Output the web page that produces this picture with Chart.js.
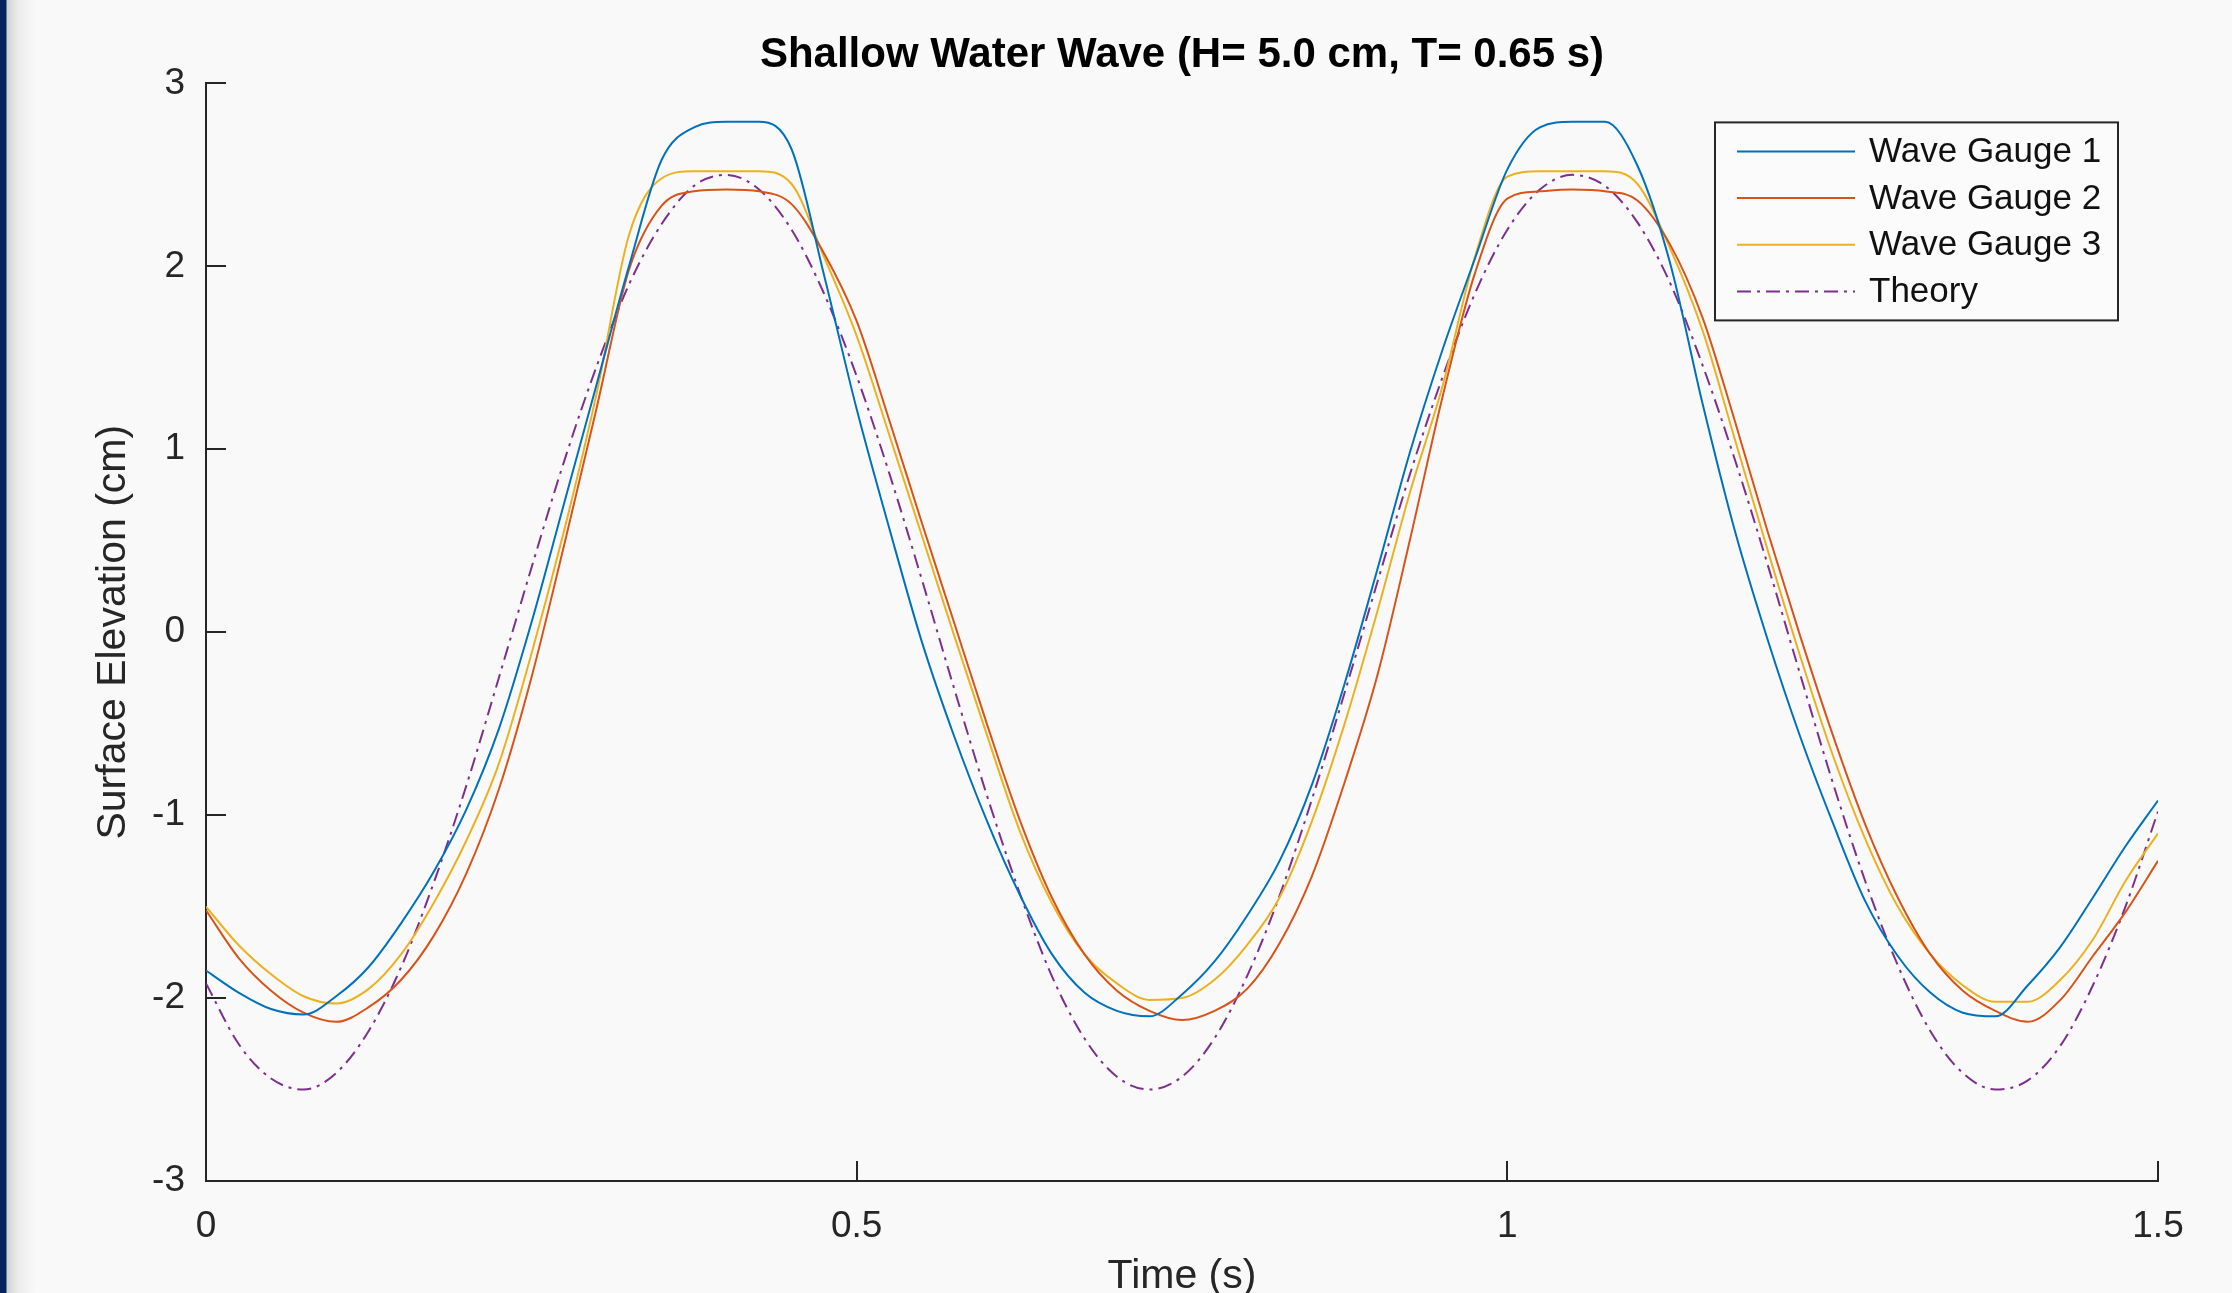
<!DOCTYPE html>
<html>
<head>
<meta charset="utf-8">
<script src="https://cdn.jsdelivr.net/npm/chart.js@4.4.1/dist/chart.umd.min.js"></script>
<style>
  html, body { margin: 0; padding: 0; }
  body {
    width: 2232px; height: 1293px; overflow: hidden;
    background: linear-gradient(to right, #06235f 0px, #06235f 6px, #d2d2d2 7px, #ececec 18px, #f9f9f9 36px, #f9f9f9 100%);
  }
  #wrap { position: absolute; left: 0; top: 0; width: 2232px; height: 1293px; }
</style>
</head>
<body>
<div id="wrap"><canvas id="graficoOnda"></canvas></div>
<script>
// tempo (s)
const tempo = [
  0, 0.025, 0.05, 0.075, 0.1, 0.125, 0.15, 0.175, 0.2, 0.225,
  0.25, 0.275, 0.3, 0.325, 0.35, 0.375, 0.4, 0.425, 0.45, 0.475,
  0.5, 0.525, 0.55, 0.575, 0.6, 0.625, 0.65, 0.675, 0.7, 0.725,
  0.75, 0.775, 0.8, 0.825, 0.85, 0.875, 0.9, 0.925, 0.95, 0.975,
  1.0, 1.025, 1.05, 1.075, 1.1, 1.125, 1.15, 1.175, 1.2, 1.225,
  1.25, 1.275, 1.3, 1.325, 1.35, 1.375, 1.4, 1.425, 1.45, 1.475,
  1.5
];
// elevação (cm)
const gauge1 = [
  -1.85, -1.97, -2.06, -2.09, -1.99, -1.83, -1.59, -1.31, -0.97, -0.53,
  0.05, 0.70, 1.35, 2.00, 2.58, 2.76, 2.79, 2.79, 2.64, 1.95,
  1.22, 0.57, -0.05, -0.57, -1.03, -1.43, -1.76, -1.97, -2.07, -2.10,
  -1.98, -1.80, -1.55, -1.25, -0.83, -0.28, 0.34, 0.98, 1.54, 2.04,
  2.53, 2.76, 2.79, 2.79, 2.55, 2.02, 1.25, 0.55, -0.04, -0.57,
  -1.04, -1.47, -1.77, -1.97, -2.08, -2.10, -1.93, -1.72, -1.45, -1.17,
  -0.92
];
const gauge2 = [
  -1.52, -1.78, -1.96, -2.08, -2.13, -2.05, -1.90, -1.66, -1.32, -0.86,
  -0.25, 0.47, 1.22, 1.98, 2.33, 2.41, 2.42, 2.41, 2.34, 2.07,
  1.70, 1.16, 0.60, 0.05, -0.50, -1.02, -1.45, -1.76, -1.96, -2.07,
  -2.12, -2.07, -1.95, -1.70, -1.33, -0.82, -0.24, 0.50, 1.28, 1.96,
  2.37, 2.41, 2.42, 2.41, 2.36, 2.12, 1.72, 1.15, 0.55, -0.02,
  -0.56, -1.05, -1.45, -1.76, -1.96, -2.07, -2.13, -2.01, -1.77, -1.53,
  -1.25
];
const gauge3 = [
  -1.50, -1.71, -1.87, -1.99, -2.03, -1.95, -1.76, -1.48, -1.14, -0.72,
  -0.12, 0.55, 1.30, 2.17, 2.48, 2.52, 2.52, 2.52, 2.45, 2.05,
  1.62, 1.08, 0.53, -0.02, -0.56, -1.08, -1.48, -1.76, -1.92, -2.01,
  -2.00, -1.90, -1.71, -1.45, -1.03, -0.50, 0.11, 0.76, 1.34, 2.05,
  2.49, 2.52, 2.52, 2.52, 2.45, 2.10, 1.65, 1.05, 0.45, -0.13,
  -0.67, -1.13, -1.50, -1.76, -1.93, -2.02, -2.02, -1.90, -1.68, -1.36,
  -1.10
];
const teoria = [
  -1.92, -2.25, -2.44, -2.50, -2.41, -2.18, -1.83, -1.37, -0.84, -0.25,
  0.35, 0.93, 1.45, 1.90, 2.23, 2.44, 2.50, 2.42, 2.20, 1.85,
  1.40, 0.87, 0.29, -0.31, -0.89, -1.42, -1.88, -2.22, -2.43, -2.50,
  -2.43, -2.22, -1.88, -1.44, -0.91, -0.33, 0.27, 0.86, 1.39, 1.85,
  2.20, 2.42, 2.50, 2.44, 2.24, 1.91, 1.46, 0.94, 0.37, -0.23,
  -0.82, -1.36, -1.82, -2.18, -2.41, -2.50, -2.45, -2.26, -1.93, -1.50,
  -0.98
];
const xTicks = [0, 0.5, 1, 1.5];
const yTicks = [-3, -2, -1, 0, 1, 2, 3];

const fonte = '"Liberation Sans", Arial, Helvetica, sans-serif';
const corEixo = '#262626';
Chart.defaults.font.family = fonte;

function pontos(serie) {
  return tempo.map((t, i) => ({ x: t, y: serie[i] }));
}

// marcas dos eixos para dentro + legenda com moldura
const eixosPlugin = {
  id: 'eixos',
  afterDraw(chart) {
    const { ctx, chartArea, scales } = chart;
    ctx.save();
    ctx.strokeStyle = corEixo;
    ctx.lineWidth = 2;
    ctx.beginPath();
    xTicks.forEach(v => {
      const px = Math.round(scales.x.getPixelForValue(v));
      ctx.moveTo(px, chartArea.bottom);
      ctx.lineTo(px, chartArea.bottom - 20);
    });
    yTicks.forEach(v => {
      const py = Math.round(scales.y.getPixelForValue(v));
      ctx.moveTo(chartArea.left, py);
      ctx.lineTo(chartArea.left + 20, py);
    });
    ctx.stroke();

    // legenda
    const w = 403, h = 198;
    const left = chartArea.right - 40 - w;
    const top = chartArea.top + 39;
    ctx.fillStyle = '#fbfbfb';
    ctx.fillRect(left, top, w, h);
    ctx.strokeStyle = corEixo;
    ctx.lineWidth = 2;
    ctx.strokeRect(left, top, w, h);
    ctx.font = '35px ' + fonte;
    ctx.textBaseline = 'middle';
    ctx.textAlign = 'left';
    chart.data.datasets.forEach((ds, i) => {
      const y = top + 29 + i * 46.7;
      ctx.strokeStyle = ds.borderColor;
      ctx.lineWidth = ds.borderWidth;
      ctx.setLineDash(ds.borderDash || []);
      ctx.beginPath();
      ctx.moveTo(left + 22, y);
      ctx.lineTo(left + 140, y);
      ctx.stroke();
      ctx.setLineDash([]);
      ctx.fillStyle = '#111';
      ctx.fillText(ds.label, left + 154, y + 1);
    });
    ctx.restore();
  }
};

new Chart(document.getElementById('graficoOnda'), {
  type: 'line',
  data: {
    datasets: [
      { label: 'Wave Gauge 1', data: pontos(gauge1), borderColor: '#0072BD', borderWidth: 2 },
      { label: 'Wave Gauge 2', data: pontos(gauge2), borderColor: '#D95319', borderWidth: 2 },
      { label: 'Wave Gauge 3', data: pontos(gauge3), borderColor: '#EDB120', borderWidth: 2 },
      { label: 'Theory', data: pontos(teoria), borderColor: '#7E2F8E', borderWidth: 2, borderDash: [14, 6, 3, 6] }
    ]
  },
  options: {
    responsive: true,
    maintainAspectRatio: false,
    animation: false,
    devicePixelRatio: 1,
    datasets: {
      line: { pointRadius: 0, fill: false, cubicInterpolationMode: 'monotone' }
    },
    layout: { padding: { left: 0, right: 74, top: 0, bottom: 0 } },
    plugins: {
      legend: { display: false },
      tooltip: { enabled: false },
      title: {
        display: true,
        fullSize: false,
        text: 'Shallow Water Wave (H= 5.0 cm, T= 0.65 s)',
        color: '#000',
        font: { size: 42, weight: 'bold', lineHeight: 1.2 },
        padding: { top: 30, bottom: 3 }
      }
    },
    scales: {
      x: {
        type: 'linear',
        min: 0,
        max: 1.5,
        afterBuildTicks: s => { s.ticks = xTicks.map(v => ({ value: v })); },
        afterFit: s => { s.height = 112; },
        grid: { display: true, drawOnChartArea: false, drawTicks: false },
        border: { display: true, color: corEixo, width: 2 },
        ticks: {
          color: corEixo,
          font: { size: 37 },
          padding: 24,
          maxRotation: 0,
          callback: v => String(v)
        },
        title: {
          display: true,
          text: 'Time (s)',
          color: corEixo,
          font: { size: 41, lineHeight: 1 },
          padding: { top: 0, bottom: -4 }
        }
      },
      y: {
        min: -3,
        max: 3,
        afterBuildTicks: s => { s.ticks = yTicks.map(v => ({ value: v })); },
        afterFit: s => { s.width = 206; },
        grid: { display: true, drawOnChartArea: false, drawTicks: false },
        border: { display: true, color: corEixo, width: 2 },
        ticks: {
          color: corEixo,
          font: { size: 37 },
          padding: 21,
          callback: v => String(v)
        },
        title: {
          display: true,
          text: 'Surface Elevation (cm)',
          color: corEixo,
          font: { size: 41, lineHeight: 1 },
          padding: { top: 93, bottom: 0 }
        }
      }
    }
  },
  plugins: [eixosPlugin]
});
</script>
</body>
</html>
